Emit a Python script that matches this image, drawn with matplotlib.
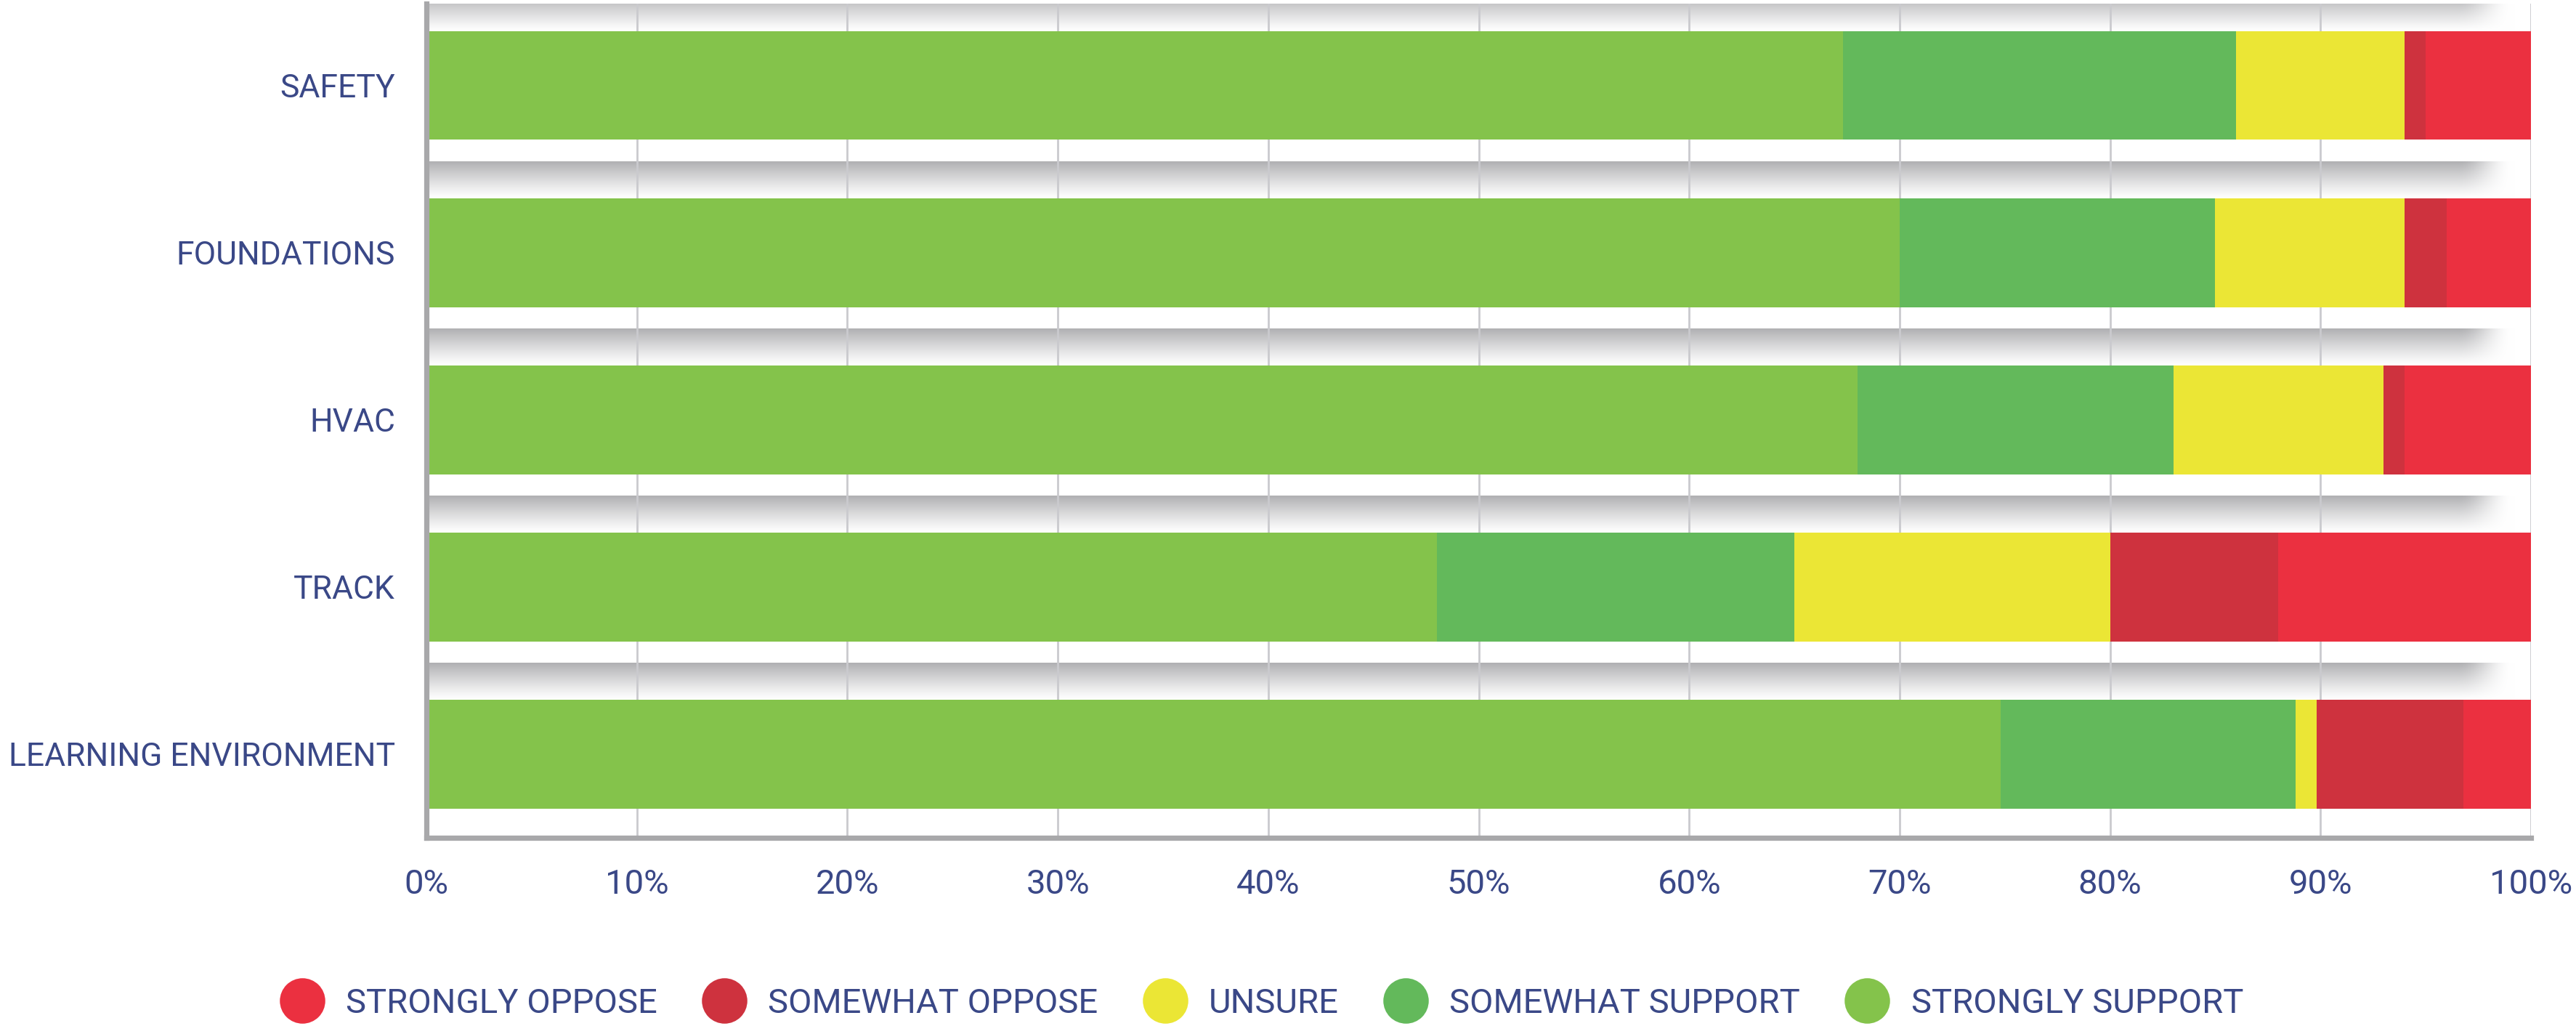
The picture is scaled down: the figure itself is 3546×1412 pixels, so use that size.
import numpy as np
import matplotlib
matplotlib.use("Agg")
import matplotlib.pyplot as plt
from matplotlib.lines import Line2D

# ---- data ----
categories = ["SAFETY", "FOUNDATIONS", "HVAC", "TRACK", "LEARNING ENVIRONMENT"]
series_names = ["STRONGLY SUPPORT", "SOMEWHAT SUPPORT", "UNSURE",
                "SOMEWHAT OPPOSE", "STRONGLY OPPOSE"]
strongly_support = [67.3, 70, 68, 48, 74.8]
somewhat_support = [18.7, 15, 15, 17, 14]
unsure = [8, 9, 10, 15, 1]
somewhat_oppose = [1, 2, 1, 8, 7]
strongly_oppose = [5, 4, 6, 12, 3.2]
xticks = [0, 10, 20, 30, 40, 50, 60, 70, 80, 90, 100]
xtick_labels = ["0%", "10%", "20%", "30%", "40%", "50%", "60%", "70%", "80%", "90%", "100%"]

colors = ["#84C34B", "#63B95B", "#EBE635", "#CE323E", "#EB3040"]
text_color = "#3A4887"

plt.rcParams["font.family"] = ["Roboto", "DejaVu Sans"]

W, H, DPI = 3546, 1412, 200
fig = plt.figure(figsize=(W / DPI, H / DPI), dpi=DPI)
ax = fig.add_axes([587 / W, 1 - 1153 / H, (3484 - 587) / W, (1153 - 5) / H])

n = len(categories)
y = np.arange(n)
bar_h = 0.65

# soft shadow bands above each bar
ny, nx = 80, 600
t = np.linspace(0, 1, ny)[:, None]          # 0 at white edge, 1 next to bar
xs = np.linspace(0, 100, nx)[None, :]
gray = np.array([0.69, 0.69, 0.70])
shade_y = np.clip(t, 0, 1) ** 1.15
shade_x = np.clip((99.2 - xs) / 2.6, 0, 1)
shade_x = shade_x * shade_x * (3 - 2 * shade_x)
shade = shade_y * shade_x
img = np.ones((ny, nx, 3))
for c in range(3):
    img[..., c] = 1 - (1 - gray[c]) * shade
band = 0.22
for i in y:
    top_edge = i - bar_h / 2
    ax.imshow(img, extent=(0, 100, top_edge, top_edge - band), origin="lower",
              aspect="auto", zorder=0.2, interpolation="bilinear")
ax.set_xlim(0, 100)
ax.set_ylim(n - 0.5, -0.49)

# bars
left = np.zeros(n)
for vals, col, name in zip([strongly_support, somewhat_support, unsure,
                            somewhat_oppose, strongly_oppose], colors, series_names):
    ax.barh(y, vals, left=left, height=bar_h, color=col, label=name,
            zorder=3, linewidth=0)
    left = left + np.array(vals)

# grid / spines
ax.set_axisbelow(True)
ax.set_xticks(xticks)
ax.set_xticklabels(xtick_labels)
ax.xaxis.grid(True, color="#CACACE", linewidth=1.0, zorder=1)
ax.yaxis.grid(False)
ax.set_yticks(y)
ax.set_yticklabels(categories)
for s in ["top", "right"]:
    ax.spines[s].set_visible(False)
for s in ["left", "bottom"]:
    ax.spines[s].set_color("#A8A8AA")
    ax.spines[s].set_linewidth(2.6)
    ax.spines[s].set_zorder(4)
ax.tick_params(axis="both", length=0, labelcolor=text_color)
ax.tick_params(axis="y", pad=15.5, labelsize=16)
ax.tick_params(axis="x", pad=15, labelsize=17)
ax.set_facecolor("white")

# legend (order: oppose -> support)
handles = [Line2D([0], [0], marker="o", linestyle="none", markersize=22.5,
                  markerfacecolor=colors[k], markeredgewidth=0)
           for k in [4, 3, 2, 1, 0]]
labels = [series_names[k] for k in [4, 3, 2, 1, 0]]
fig.legend(handles, labels, loc="center", bbox_to_anchor=(1740 / W, 1 - 1381 / H),
           ncol=5, frameon=False, fontsize=17, labelcolor=text_color,
           handlelength=1.0, handletextpad=0.78, columnspacing=1.45,
           borderaxespad=0, borderpad=0)

fig.savefig("out.png", dpi=DPI, facecolor="white")
